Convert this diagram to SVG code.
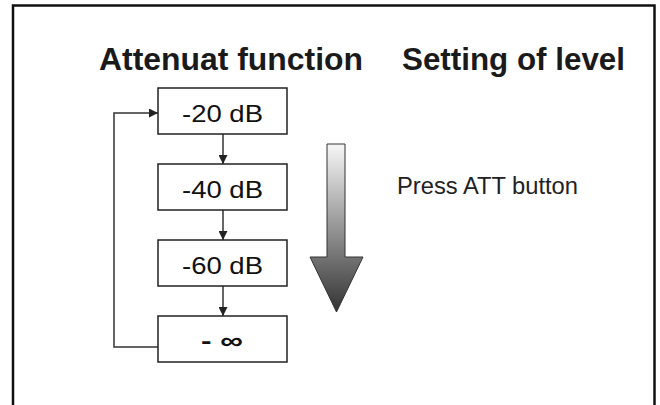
<svg xmlns="http://www.w3.org/2000/svg" width="660" height="405" viewBox="0 0 660 405">
<style>
.title{font-family:"Liberation Sans",Arial,sans-serif;font-weight:bold;font-size:32px;fill:#1a1a1a}
.box{fill:#fff;stroke:#222;stroke-width:1.5}
.lbl{font-family:"Liberation Sans",Arial,sans-serif;font-size:24px;fill:#111;text-anchor:middle}
.note{font-family:"Liberation Sans",Arial,sans-serif;font-size:23px;fill:#222}
.conn{fill:none;stroke:#333;stroke-width:1.5}
</style>
<defs>
<marker id="ah" viewBox="0 0 10 10" refX="10" refY="5" markerWidth="9" markerHeight="9" markerUnits="userSpaceOnUse" orient="auto">
<path d="M0,0 L10,5 L0,10 Z" fill="#222"/>
</marker>
<linearGradient id="g" x1="0" y1="0" x2="0" y2="1">
<stop offset="0" stop-color="#f7f7f7"/>
<stop offset="1" stop-color="#333"/>
</linearGradient>
</defs>
<rect x="13" y="5.5" width="641.5" height="430" fill="#fff" stroke="#111" stroke-width="2.5"/>
<text class="title" x="99" y="70" textLength="264" lengthAdjust="spacingAndGlyphs">Attenuat function</text>
<text class="title" x="402" y="70" textLength="223" lengthAdjust="spacingAndGlyphs">Setting of level</text>
<g id="connectors">
<line class="conn" x1="223" y1="134" x2="223" y2="164" marker-end="url(#ah)"/>
<line class="conn" x1="223" y1="210" x2="223" y2="240" marker-end="url(#ah)"/>
<line class="conn" x1="223" y1="286" x2="223" y2="316" marker-end="url(#ah)"/>
<polyline class="conn" points="158,347 114,347 114,113 158,113" marker-end="url(#ah)"/>
</g>
<g id="n20"><rect class="box" x="158" y="88" width="129" height="46"/><text class="lbl" x="222.5" y="121.5" textLength="81" lengthAdjust="spacingAndGlyphs">-20 dB</text></g>
<g id="n40"><rect class="box" x="158" y="164" width="129" height="46"/><text class="lbl" x="222.5" y="197.5" textLength="81" lengthAdjust="spacingAndGlyphs">-40 dB</text></g>
<g id="n60"><rect class="box" x="158" y="240" width="129" height="46"/><text class="lbl" x="222.5" y="273.5" textLength="81" lengthAdjust="spacingAndGlyphs">-60 dB</text></g>
<g id="ninf"><rect class="box" x="158" y="316" width="129" height="46"/><text class="lbl" x="222" y="349" font-size="30" font-weight="bold" textLength="42" lengthAdjust="spacingAndGlyphs">- ∞</text></g>
<g id="bigarrow"><polygon points="327,144 345,144 345,257 363,257 336.5,312 310,257 327,257" fill="url(#g)" stroke="#333" stroke-width="1"/></g>
<text class="note" x="397" y="194" textLength="181" lengthAdjust="spacingAndGlyphs">Press ATT button</text>
</svg>
